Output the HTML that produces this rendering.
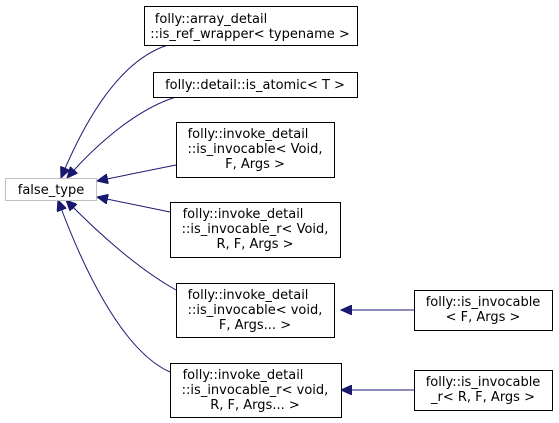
<!DOCTYPE html>
<html><head><style>
body{margin:0;background:#fff;}
svg{display:block;}
text{font-family:"DejaVu Sans","Liberation Sans",sans-serif;font-size:13px;fill:#000;}
</style></head><body>
<svg width="559" height="423" viewBox="0 0 559 423" xmlns="http://www.w3.org/2000/svg">
<defs>
<marker id="a" markerWidth="12" markerHeight="10" refX="11" refY="5" orient="auto" markerUnits="userSpaceOnUse">
<path d="M0,0 L11,5 L0,10 Z" fill="#191970" stroke="#191970"/>
</marker>
</defs>
<g fill="none" stroke="#191970" stroke-width="1">
<path d="M168,45 C120,60 85,120 61,178" marker-end="url(#a)"/>
<path d="M176,97 C140,108 100,140 67,178" marker-end="url(#a)"/>
<path d="M176,165 L97,181" marker-end="url(#a)"/>
<path d="M170,212 L97,197" marker-end="url(#a)"/>
<path d="M176,290 C140,270 100,235 66,200" marker-end="url(#a)"/>
<path d="M170,372 C120,350 80,260 58,200" marker-end="url(#a)"/>
<path d="M414,310 L341,310" marker-end="url(#a)"/>
<path d="M414,390 L341,390" marker-end="url(#a)"/>
</g>
<g fill="#fff" stroke="#000" stroke-width="1">
<rect x="5.5" y="178.5" width="91" height="22" stroke="#bfbfbf"/>
<rect x="144.5" y="6.5" width="213" height="39"/>
<rect x="153.5" y="72.5" width="204" height="25"/>
<rect x="176.5" y="122.5" width="158" height="55"/>
<rect x="170.5" y="202.5" width="170" height="55"/>
<rect x="176.5" y="283.5" width="158" height="54"/>
<rect x="170.5" y="363.5" width="171" height="54"/>
<rect x="414.5" y="290.5" width="138" height="40"/>
<rect x="414.5" y="370.5" width="138" height="40"/>
</g>
<g text-anchor="middle">
<text x="51" y="194">false_type</text>
<text x="211" y="23">folly::array_detail</text>
<text x="250" y="38">::is_ref_wrapper&lt; typename &gt;</text>
<text x="255" y="89">folly::detail::is_atomic&lt; T &gt;</text>
<text x="248" y="138">folly::invoke_detail</text>
<text x="255" y="153">::is_invocable&lt; Void,</text>
<text x="255" y="168">F, Args &gt;</text>
<text x="243" y="218">folly::invoke_detail</text>
<text x="255" y="233">::is_invocable_r&lt; Void,</text>
<text x="255" y="248">R, F, Args &gt;</text>
<text x="248" y="299">folly::invoke_detail</text>
<text x="255" y="314">::is_invocable&lt; void,</text>
<text x="255" y="329">F, Args... &gt;</text>
<text x="243" y="379">folly::invoke_detail</text>
<text x="255" y="394">::is_invocable_r&lt; void,</text>
<text x="255" y="409">R, F, Args... &gt;</text>
<text x="483" y="306">folly::is_invocable</text>
<text x="483" y="321">&lt; F, Args &gt;</text>
<text x="483" y="386">folly::is_invocable</text>
<text x="483" y="401">_r&lt; R, F, Args &gt;</text>
</g>
</svg>
</body></html>
